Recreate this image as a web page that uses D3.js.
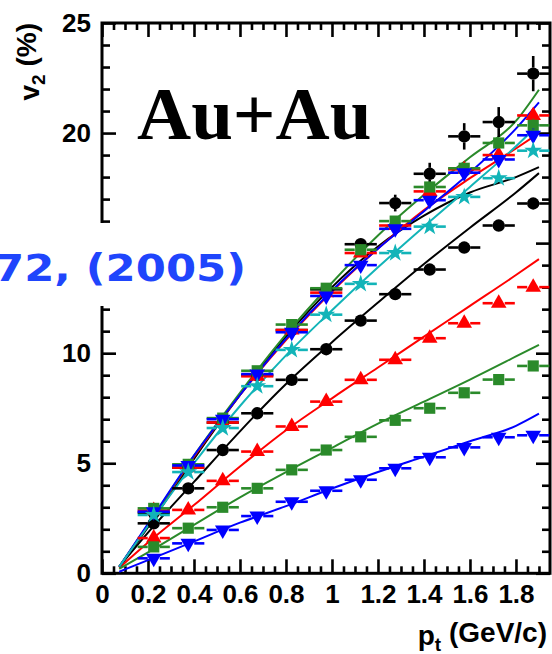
<!DOCTYPE html>
<html>
<head>
<meta charset="utf-8">
<script src="https://cdn.jsdelivr.net/npm/d3@7"></script>
<style>
  html, body { margin: 0; padding: 0; background: #fff; }
  svg { display: block; }
  .axis text { font-family: "Liberation Sans", Arial, Helvetica, sans-serif; font-weight: bold; font-size: 26px; fill: #000; }
</style>
</head>
<body>
<script>
// ---- data -------------------------------------------------------------
const ptBins = [0.225, 0.375, 0.525, 0.675, 0.825, 0.975, 1.125, 1.275, 1.425, 1.575, 1.725, 1.875];
const ptHalfWidth = 0.07;

// upper group (overlapping at low pt)
const v2BlackUp    = [2.75, 4.8, 6.85, 9.0, 11.05, 12.9, 14.95, 16.82, 18.15, 19.85, 20.5, 22.7];
const v2BlackUpErr = [0.1, 0.1, 0.12, 0.15, 0.18, 0.22, 0.28, 0.38, 0.5, 0.6, 0.68, 0.8];
const v2RedUp      = [2.85, 4.8, 6.85, 8.95, 11.05, 12.75, 14.55, 15.8, 17.35, 18.35, 19.0, 20.8];
const v2GreenUp    = [2.95, 4.95, 7.05, 9.2, 11.3, 12.95, 14.7, 16.0, 17.55, 18.4, 19.55, 20.35];
const v2BlueUp     = [2.8, 4.9, 7.0, 9.05, 10.95, 12.6, 14.0, 15.65, 16.95, 18.2, 18.8, 19.9];
const v2CyanUp     = [2.65, 4.6, 6.6, 8.5, 10.15, 11.75, 13.15, 14.55, 15.75, 17.1, 17.95, 19.2];
const v2SmallErr   = [0.05, 0.05, 0.06, 0.07, 0.08, 0.1, 0.12, 0.15, 0.18, 0.22, 0.26, 0.3];

// lower group
const v2BlackLow = [2.27, 3.86, 5.6, 7.27, 8.79, 10.18, 11.48, 12.68, 13.8, 14.8, 15.8, 16.8];
const v2RedLow   = [1.6, 2.88, 4.2, 5.53, 6.67, 7.8, 8.79, 9.7, 10.68, 11.36, 12.27, 13.0];
const v2GreenLow = [1.2, 2.05, 3.0, 3.86, 4.7, 5.6, 6.2, 6.95, 7.5, 8.2, 8.8, 9.42];
const v2BlueLow  = [0.68, 1.36, 1.97, 2.6, 3.25, 3.75, 4.25, 4.77, 5.27, 5.72, 6.18, 6.27];

// model curves
const curvePt = [0.075, 0.2, 0.4, 0.6, 0.8, 1.0, 1.2, 1.4, 1.6, 1.8, 1.9];
const curveBlackUp  = [0.3, 2.1, 5.2, 8.1, 10.75, 13.0, 14.85, 16.25, 17.3, 18.0, 18.45];
const curveGreenUp  = [0.3, 2.2, 5.35, 8.2, 10.85, 13.2, 15.35, 17.2, 18.9, 20.55, 21.97];
const curveBlueUp   = [0.3, 2.25, 5.35, 8.1, 10.65, 12.85, 14.75, 16.45, 18.2, 20.2, 21.39];
const curveRedUp    = [0.3, 2.2, 5.3, 8.1, 10.6, 12.8, 14.75, 16.5, 17.95, 19.3, 20.0];
const curveCyanUp   = [0.3, 2.15, 5.0, 7.6, 9.9, 11.95, 13.9, 15.75, 17.55, 19.4, 20.4];
const curveBlackLow = [0.3, 1.85, 4.15, 6.45, 8.6, 10.5, 12.3, 14.05, 15.7, 17.3, 18.18];
const curveRedLow   = [0.25, 1.4, 3.1, 4.85, 6.5, 7.95, 9.35, 10.75, 12.15, 13.55, 14.27];
const curveGreenLow = [0.2, 0.95, 2.2, 3.45, 4.6, 5.7, 6.8, 7.8, 8.8, 9.85, 10.38];
const curveBlueLow  = [0.07, 0.6, 1.45, 2.3, 3.05, 3.85, 4.6, 5.3, 6.0, 6.7, 7.25];

// axis ticks (the 15 label sits under the citation patch)
const xMajor = [0, 0.2, 0.4, 0.6, 0.8, 1.0, 1.2, 1.4, 1.6, 1.8];
const xTickLabels = ["0", "0.2", "0.4", "0.6", "0.8", "1", "1.2", "1.4", "1.6", "1.8"];
const yMajor = [0, 5, 10, 15, 20, 25];
const yTickLabels = ["0", "5", "10", "", "20", "25"];

// ---- layout -------------------------------------------------------------
const W = 552, H = 654;
const plotL = 102, plotR = 550, plotT = 23, plotB = 573.3;
const x = d3.scaleLinear().domain([0, 1.948]).range([plotL, plotR]);
const y = d3.scaleLinear().domain([0, 25]).range([plotB, plotT]);

const colors = { black: "#000000", red: "#ff0000", green: "#2a8a2a", blue: "#0000ff", cyan: "#12b4b8" };

const svg = d3.select("body").append("svg").attr("width", W).attr("height", H);

// ---- axes ---------------------------------------------------------------
const xMinor = d3.range(0, 1.95, 0.05).filter(v => !xMajor.some(m => Math.abs(m - v) < 1e-6));
const yMinor = d3.range(0, 25.01, 1).filter(v => v % 5 !== 0);

function styleAxis(g) {
  g.attr("class", "axis");
  g.select(".domain").remove();
  g.selectAll(".tick line").attr("stroke", "#000").attr("stroke-width", 2.6);
}

svg.append("g").attr("transform", `translate(0,${plotB})`)
  .call(d3.axisBottom(x).tickValues(xMajor).tickSizeInner(-14).tickSizeOuter(0).tickPadding(11)
    .tickFormat((d, i) => xTickLabels[i]))
  .call(styleAxis);
svg.append("g").attr("transform", `translate(0,${plotB})`)
  .call(d3.axisBottom(x).tickValues(xMinor).tickSizeInner(-7).tickSizeOuter(0).tickFormat(""))
  .call(styleAxis);
svg.append("g").attr("transform", `translate(0,${plotT})`)
  .call(d3.axisTop(x).tickValues(xMajor).tickSizeInner(-14).tickSizeOuter(0).tickFormat(""))
  .call(styleAxis);
svg.append("g").attr("transform", `translate(0,${plotT})`)
  .call(d3.axisTop(x).tickValues(xMinor).tickSizeInner(-7).tickSizeOuter(0).tickFormat(""))
  .call(styleAxis);

svg.append("g").attr("transform", `translate(${plotL},0)`)
  .call(d3.axisLeft(y).tickValues(yMajor).tickSizeInner(-14).tickSizeOuter(0).tickPadding(11)
    .tickFormat((d, i) => yTickLabels[i]))
  .call(styleAxis);
svg.append("g").attr("transform", `translate(${plotL},0)`)
  .call(d3.axisLeft(y).tickValues(yMinor).tickSizeInner(-8).tickSizeOuter(0).tickFormat(""))
  .call(styleAxis);
svg.append("g").attr("transform", `translate(${plotR},0)`)
  .call(d3.axisRight(y).tickValues(yMajor).tickSizeInner(-14).tickSizeOuter(0).tickFormat(""))
  .call(styleAxis);
svg.append("g").attr("transform", `translate(${plotR},0)`)
  .call(d3.axisRight(y).tickValues(yMinor).tickSizeInner(-8).tickSizeOuter(0).tickFormat(""))
  .call(styleAxis);

svg.append("rect")
  .attr("x", plotL).attr("y", plotT).attr("width", plotR - plotL).attr("height", plotB - plotT)
  .attr("fill", "none").attr("stroke", "#000").attr("stroke-width", 3);

// ---- curves ---------------------------------------------------------------
const line = d3.line().x(d => x(d[0])).y(d => y(d[1])).curve(d3.curveMonotoneX);
const curves = [
  [curveBlackLow, colors.black], [curveRedLow, colors.red], [curveGreenLow, colors.green], [curveBlueLow, colors.blue],
  [curveBlackUp, colors.black], [curveRedUp, colors.red], [curveGreenUp, colors.green], [curveBlueUp, colors.blue],
  [curveCyanUp, colors.cyan]
];
const curveG = svg.append("g").attr("fill", "none").attr("stroke-width", 2);
curves.forEach(([vals, c]) => {
  curveG.append("path").datum(curvePt.map((p, i) => [p, vals[i]]))
    .attr("stroke", c).attr("d", line);
});

// ---- data points ----------------------------------------------------------
const markers = {
  circle:   { type: d3.symbolCircle,   size: 120, rot: 0 },
  triUp:    { type: d3.symbolTriangle, size: 105, rot: 0 },
  triDown:  { type: d3.symbolTriangle, size: 105, rot: 180 },
  square:   { type: d3.symbolSquare,   size: 125, rot: 0 },
  star:     { type: d3.symbolStar,     size: 100, rot: 0 }
};

function drawSeries(vals, errs, color, m) {
  const g = svg.append("g");
  const gap = 6;
  ptBins.forEach((p, i) => {
    const cx = x(p), cy = y(vals[i]);
    const x0 = x(p - ptHalfWidth), x1 = x(p + ptHalfWidth);
    g.append("line").attr("x1", x0).attr("x2", cx - gap).attr("y1", cy).attr("y2", cy)
      .attr("stroke", color).attr("stroke-width", 2.6);
    g.append("line").attr("x1", cx + gap).attr("x2", x1).attr("y1", cy).attr("y2", cy)
      .attr("stroke", color).attr("stroke-width", 2.6);
    const e = errs ? errs[i] : 0;
    const yt = y(vals[i] + e), yb = y(vals[i] - e);
    if (cy - yt > gap) {
      g.append("line").attr("x1", cx).attr("x2", cx).attr("y1", yt).attr("y2", cy - gap)
        .attr("stroke", color).attr("stroke-width", 2.6);
      g.append("line").attr("x1", cx).attr("x2", cx).attr("y1", cy + gap).attr("y2", yb)
        .attr("stroke", color).attr("stroke-width", 2.6);
    }
    g.append("path").attr("d", d3.symbol().type(m.type).size(m.size)())
      .attr("transform", `translate(${cx},${cy}) rotate(${m.rot})`)
      .attr("fill", color);
  });
}

drawSeries(v2BlackLow, null, colors.black, markers.circle);
drawSeries(v2RedLow, null, colors.red, markers.triUp);
drawSeries(v2GreenLow, null, colors.green, markers.square);
drawSeries(v2BlueLow, null, colors.blue, markers.triDown);

drawSeries(v2BlackUp, v2BlackUpErr, colors.black, markers.circle);
drawSeries(v2RedUp, v2SmallErr, colors.red, markers.triUp);
drawSeries(v2GreenUp, v2SmallErr, colors.green, markers.square);
drawSeries(v2BlueUp, v2SmallErr, colors.blue, markers.triDown);
drawSeries(v2CyanUp, null, colors.cyan, markers.star);

// ---- titles and labels ------------------------------------------------------
const yTitle = svg.append("text")
  .attr("transform", `translate(39,${plotT}) rotate(-90)`)
  .attr("text-anchor", "end")
  .style("font-family", "'Liberation Sans', Arial, sans-serif")
  .style("font-weight", "bold").style("font-size", "28px");
yTitle.append("tspan").text("v");
yTitle.append("tspan").attr("dy", "0.3em").style("font-size", "19px").text("2");
yTitle.append("tspan").attr("dy", "-0.3em").text(" (%)");

const xTitle = svg.append("text")
  .attr("x", 547).attr("y", 645)
  .attr("text-anchor", "end")
  .style("font-family", "'Liberation Sans', Arial, sans-serif")
  .style("font-weight", "bold").style("font-size", "28px");
xTitle.append("tspan").text("p");
xTitle.append("tspan").attr("dy", "0.3em").style("font-size", "19px").text("t");
xTitle.append("tspan").attr("dy", "-0.3em").text(" (GeV/c)");

svg.append("text")
  .attr("x", 137).attr("y", 139)
  .style("font-family", "'Liberation Serif', 'Times New Roman', serif")
  .style("font-weight", "bold").style("font-size", "75px")
  .text("Au+Au");

// citation on a white patch over the axis
svg.append("rect").attr("x", 0).attr("y", 223).attr("width", 250).attr("height", 83).attr("fill", "#fff");
svg.append("text")
  .attr("x", -6).attr("y", 281)
  .attr("textLength", 252).attr("lengthAdjust", "spacingAndGlyphs")
  .style("font-family", "'DejaVu Sans', sans-serif")
  .style("font-weight", "bold").style("font-size", "37px")
  .attr("fill", "#1f45fc")
  .text("72, (2005)");
</script>
</body>
</html>
